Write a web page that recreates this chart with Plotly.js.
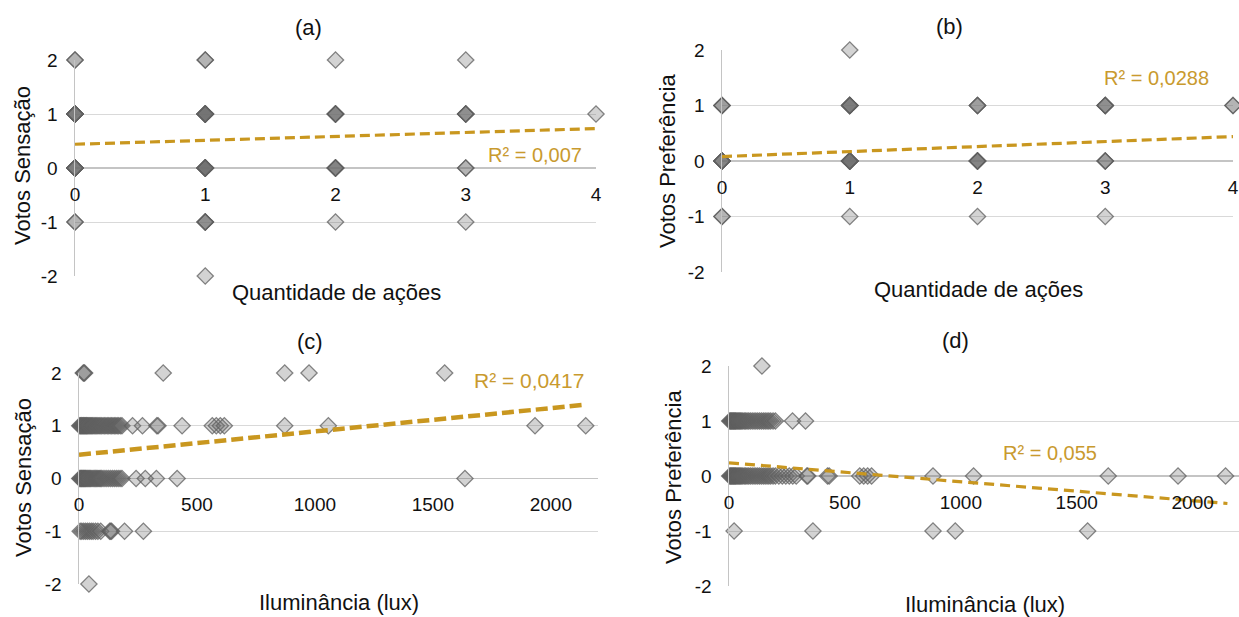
<!DOCTYPE html>
<html>
<head>
<meta charset="utf-8">
<script src="https://cdn.plot.ly/plotly-3.0.1.min.js"></script>
<style>html,body{margin:0;padding:0;background:#fff;}#chart{width:1239px;height:617px;}</style>
</head>
<body>
<div id="chart"></div>
<script>
// ---------- DATA ----------
// Panel (a): Votos Sensação vs Quantidade de ações (x values per vote level; repeats = overlapping votes)
const aVoto2  = [0,0,1,1,2,3];
const aVoto1  = [0,0,0,0,0,0,1,1,1,1,1,1,1,1,2,2,2,2,2,3,3,3,3,4];
const aVoto0  = [0,0,0,0,0,0,1,1,1,1,1,1,1,1,2,2,2,2,2,3,3];
const aVotoM1 = [0,0,1,1,1,1,2,3];
const aVotoM2 = [1];
const aTrendX = [0,4];
const aTrendY = [0.44,0.73];
const aR2 = "R² = 0,007";

// Panel (b): Votos Preferência vs Quantidade de ações
const bVoto2  = [1];
const bVoto1  = [0,0,0,1,1,1,1,1,1,2,2,2,3,3,3,3,4,4];
const bVoto0  = [0,0,0,0,0,1,1,1,1,1,1,1,1,2,2,2,2,2,3,3,3];
const bVotoM1 = [0,0,1,2,3];
const bVotoM2 = [];
const bTrendX = [0,4];
const bTrendY = [0.08,0.44];
const bR2 = "R² = 0,0288";

// Panel (c): Votos Sensação vs Iluminância (lux)
const cVoto2  = [18,21,24,357,872,975,1550];
const cVoto1  = [3,6,9,12,15,18,21,24,27,30,33,36,40,44,48,52,56,60,65,70,75,80,85,90,96,102,108,114,120,126,132,138,144,150,156,162,168,175,182,227,269,330,335,437,565,582,599,616,872,1057,1933,2148];
const cVoto0  = [3,6,9,12,15,18,21,24,27,30,34,38,42,46,50,55,60,65,70,75,80,85,90,95,102,110,118,126,134,142,150,158,166,174,182,242,281,328,416,1636];
const cVotoM1 = [5,12,20,28,36,44,52,60,70,80,92,130,134,138,193,273];
const cVotoM2 = [42];
const cTrendX = [0,2150];
const cTrendY = [0.45,1.40];
const cR2 = "R² = 0,0417";

// Panel (d): Votos Preferência vs Iluminância (lux)
const dVoto2  = [142];
const dVoto1  = [3,6,9,12,15,18,21,24,27,30,34,38,42,46,50,55,60,66,72,78,85,92,100,108,116,124,132,140,148,156,164,172,180,190,200,274,330];
const dVoto0  = [3,6,9,12,15,18,21,24,27,30,34,38,42,46,50,55,60,66,72,78,85,92,100,108,116,124,132,140,148,156,164,172,180,190,200,215,230,245,260,275,290,336,340,425,432,564,581,598,615,880,1055,1636,1937,2142];
const dVotoM1 = [22,362,880,976,1547];
const dVotoM2 = [];
const dTrendX = [0,2150];
const dTrendY = [0.24,-0.50];
const dR2 = "R² = 0,055";

const voteLevels = [2,1,0,-1,-2];
const xTickVals = [0,1,2,3,4];
const luxTickVals = [0,500,1000,1500,2000];
const yTickVals = [-2,-1,0,1,2];
const yTickText = ["-2","-1","0","1","2"];

// ---------- HELPERS ----------
const W = 1239, H = 617;
const px = p => p / W;
const py = p => 1 - p / H;

function pointsFrom(levels, lists) {
  const xs = [], ys = [];
  lists.forEach((lst, i) => lst.forEach(v => { xs.push(v); ys.push(levels[i]); }));
  return {xs, ys};
}

const FONT = "Liberation Sans, Arial, sans-serif";
const TREND = "#C9971F";
const R2COL = "#C99A2E";

const panels = [
  {id:"", lists:[aVoto2,aVoto1,aVoto0,aVotoM1,aVotoM2], tx:aTrendX, ty:aTrendY, r2:aR2,
   xdom:[px(75),px(596)], ydom:[py(276),py(60)], xr:[0,4], ticks:xTickVals,
   dash:"10px,5px", lw:3.2},
  {id:"2", lists:[bVoto2,bVoto1,bVoto0,bVotoM1,bVotoM2], tx:bTrendX, ty:bTrendY, r2:bR2,
   xdom:[px(722),px(1233)], ydom:[py(272),py(50)], xr:[0,4], ticks:xTickVals,
   dash:"10px,5px", lw:3.2},
  {id:"3", lists:[cVoto2,cVoto1,cVoto0,cVotoM1,cVotoM2], tx:cTrendX, ty:cTrendY, r2:cR2,
   xdom:[px(79),px(598)], ydom:[py(584),py(373)], xr:[0,2200], ticks:luxTickVals,
   dash:"12px,5px", lw:4.5},
  {id:"4", lists:[dVoto2,dVoto1,dVoto0,dVotoM1,dVotoM2], tx:dTrendX, ty:dTrendY, r2:dR2,
   xdom:[px(729),px(1239)], ydom:[py(586),py(366)], xr:[0,2200], ticks:luxTickVals,
   dash:"10px,6px", lw:3.2}
];

const data = [];
const layout = {
  width: W, height: H,
  margin: {l:0, r:0, t:0, b:0},
  paper_bgcolor: "#fff", plot_bgcolor: "rgba(0,0,0,0)",
  showlegend: false,
  font: {family: FONT, color: "#111", size: 19},
  annotations: []
};

panels.forEach(p => {
  const pts = pointsFrom(voteLevels, p.lists);
  const xa = "x" + p.id, ya = "y" + p.id;
  data.push({
    type: "scatter", mode: "markers", x: pts.xs, y: pts.ys, xaxis: xa, yaxis: ya,
    cliponaxis: false,
    marker: {symbol: "diamond", size: 12.5, color: "rgba(110,110,110,0.30)",
             line: {color: "rgba(95,95,95,0.75)", width: 1.3}},
    hoverinfo: "x+y"
  });
  data.push({
    type: "scatter", mode: "lines", x: p.tx, y: p.ty, xaxis: xa, yaxis: ya,
    cliponaxis: false,
    line: {color: TREND, width: p.lw, dash: p.dash}, hoverinfo: "skip"
  });
  const yPos0 = p.ydom[0] + (0 - (-2)) / 4 * (p.ydom[1] - p.ydom[0]);
  layout["xaxis" + p.id] = {
    domain: p.xdom, range: p.xr, anchor: "free", position: yPos0,
    showgrid: false, zeroline: false, showline: false,
    tickvals: p.ticks, ticks: "outside", ticklen: 9, tickcolor: "rgba(0,0,0,0)",
    tickfont: {family: FONT, size: 19, color: "#111"}, fixedrange: true
  };
  layout["yaxis" + p.id] = {
    domain: p.ydom, range: [-2, 2], anchor: "x" + p.id,
    showgrid: true, gridcolor: "#d9d9d9", gridwidth: 1,
    zeroline: true, zerolinecolor: "#c4c4c4", zerolinewidth: 1.3,
    showline: true, linecolor: "#c4c4c4", linewidth: 1.5,
    tickvals: yTickVals, ticktext: yTickText,
    ticks: "outside", ticklen: 12, tickcolor: "rgba(0,0,0,0)",
    tickfont: {family: FONT, size: 19, color: "#111"}, fixedrange: true
  };
});

function ann(text, x, y, opts) {
  layout.annotations.push(Object.assign({
    text: text, xref: "paper", yref: "paper", x: px(x), y: py(y),
    xanchor: "center", yanchor: "middle", showarrow: false,
    font: {family: FONT, size: 22, color: "#111"}
  }, opts || {}));
}

// panel titles
ann("(a)", 308, 27);
ann("(b)", 949, 26);
ann("(c)", 310, 342);
ann("(d)", 955, 340);
// x axis titles
ann("Quantidade de ações", 336, 292);
ann("Quantidade de ações", 978, 289);
ann("Iluminância (lux)", 339, 602);
ann("Iluminância (lux)", 985, 604);
// y axis titles
ann("Votos Sensação", 23, 166, {textangle: -90});
ann("Votos Preferência", 667, 161, {textangle: -90});
ann("Votos Sensação", 23, 478, {textangle: -90});
ann("Votos Preferência", 673, 477, {textangle: -90});
// R² labels
ann(aR2, 535, 155, {font: {family: FONT, size: 20, color: R2COL}});
ann(bR2, 1156, 78, {font: {family: FONT, size: 20, color: R2COL}});
ann(cR2, 529, 380, {font: {family: FONT, size: 21, color: R2COL}});
ann(dR2, 1050, 453, {font: {family: FONT, size: 20, color: R2COL}});

Plotly.newPlot("chart", data, layout, {staticPlot: true, displayModeBar: false});
</script>
</body>
</html>
